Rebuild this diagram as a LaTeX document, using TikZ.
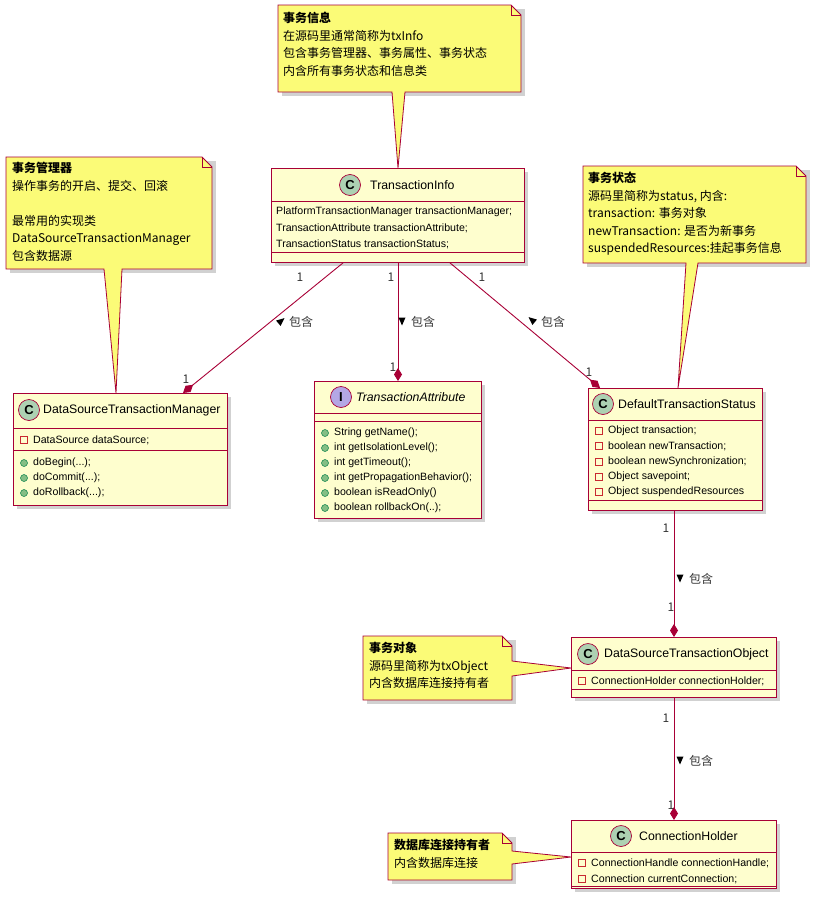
\documentclass[tikz,border=0pt]{standalone}
\usepackage{fontspec}
\setmainfont{Liberation Sans}
\newfontfamily\cjk{Noto Sans CJK SC}
\usetikzlibrary{arrows.meta,calc}
\definecolor{umlred}{HTML}{A80036}
\definecolor{umlbg}{HTML}{FEFECE}
\definecolor{notebg}{HTML}{FBFB77}
\definecolor{cgreen}{HTML}{ADD1B2}
\definecolor{ipurple}{HTML}{B4A7E5}
\definecolor{pubfill}{HTML}{84BE84}
\definecolor{publine}{HTML}{038048}
\definecolor{privline}{HTML}{C82930}
\begin{document}
\begin{tikzpicture}[x=1pt,y=-1pt,
  cls/.style={draw=umlred,fill=umlbg,line width=0.9pt,anchor=north west,inner sep=0},
  icon/.style={circle,draw=umlred,line width=0.7pt,minimum size=21pt,inner sep=0,font=\fontsize{13}{13}\bfseries},
  title/.style={anchor=west,inner sep=0,font=\fontsize{12.3}{13}\selectfont},
  mem/.style={anchor=west,inner sep=0,font=\fontsize{10.6}{11}\selectfont},
  pub/.style={circle,fill=pubfill,draw=publine,line width=0.5pt,minimum size=7pt,inner sep=0},
  priv/.style={rectangle,draw=privline,line width=0.6pt,minimum size=7pt,inner sep=0},
  note/.style={draw=umlred,fill=notebg,line width=0.8pt},
  ntext/.style={anchor=north west,inner sep=0,align=left,font=\cjk\fontsize{12}{17.5}\selectfont},
  conn/.style={draw=umlred,line width=0.9pt},
  comp/.style={conn,-{Diamond[length=13pt,width=8pt,fill=umlred]}},
  lbl/.style={inner sep=0,text=black!80,font=\cjk\fontsize{12}{12}\selectfont},
]
\useasboundingbox (0,0) rectangle (816,910);
\newcommand\clsbox[5]{% name, x1,y1,x2,y2
  \fill[black!18] (#2+4,#3+4) rectangle (#4+4,#5+4);
  \node[cls,minimum width={#4-#2},minimum height={#5-#3}] (#1) at (#2,#3) {};}
\newcommand\pubm[3]{\node[pub] at (#1,#2) {}; \node[mem] at (#1+9,#2) {#3};}
\newcommand\privm[3]{\node[priv] at (#1,#2) {}; \node[mem] at (#1+9,#2) {#3};}
\newcommand\arr[3]{\fill[black,shift={(#1,#2)},rotate=#3] (4.5,0) -- (-3.5,3.5) -- (-3.5,-3.5) -- cycle;}

% ---------- Notes ----------
\fill[black!18] (282,9) rectangle (525,96);
\draw[note] (278,5) -- (511,5) -- (521,15) -- (521,92) -- (405,92) -- (398,168) -- (392,92) -- (278,92) -- cycle;
\draw[note,fill=none] (511,5) -- (511,15) -- (521,15);
\node[ntext] (n1) at (283,12) {\textbf{事务信息}\\在源码里通常简称为txInfo\\包含事务管理器、事务属性、事务状态\\内含所有事务状态和信息类};

\fill[black!18] (10,161) rectangle (216,273);
\draw[note] (6,157) -- (202,157) -- (212,167) -- (212,269) -- (122,269) -- (116,393) -- (104,269) -- (6,269) -- cycle;
\draw[note,fill=none] (202,157) -- (202,167) -- (212,167);
\node[ntext] (n2) at (12,162) {\textbf{事务管理器}\\操作事务的开启、提交、回滚\\[17.5pt]最常用的实现类\\DataSourceTransactionManager\\包含数据源};

\fill[black!18] (587,170) rectangle (810,267);
\draw[note] (583,166) -- (796,166) -- (806,176) -- (806,263) -- (698,263) -- (678,388) -- (686,263) -- (583,263) -- cycle;
\draw[note,fill=none] (796,166) -- (796,176) -- (806,176);
\node[ntext] (n3) at (588,172) {\textbf{事务状态}\\源码里简称为status, 内含:\\transaction: 事务对象\\newTransaction: 是否为新事务\\suspendedResources:挂起事务信息};

\fill[black!18] (367,640) rectangle (516,704);
\draw[note] (363,636) -- (502,636) -- (512,646) -- (512,661) -- (571,668) -- (512,676) -- (512,700) -- (363,700) -- cycle;
\draw[note,fill=none] (502,636) -- (502,646) -- (512,646);
\node[ntext] (n4) at (369,642) {\textbf{事务对象}\\源码里简称为txObject\\内含数据库连接持有者};

\fill[black!18] (392,837) rectangle (516,884);
\draw[note] (388,833) -- (502,833) -- (512,843) -- (512,851) -- (571,857) -- (512,864) -- (512,880) -- (388,880) -- cycle;
\draw[note,fill=none] (502,833) -- (502,843) -- (512,843);
\node[ntext] (n5) at (394,839) {\textbf{数据库连接持有者}\\内含数据库连接};

% ---------- TransactionInfo ----------
\clsbox{ti}{271}{168}{524}{262}
\draw[umlred,line width=0.8pt] (271,201) -- (524,201) (271,252) -- (524,252);
\node[icon,fill=cgreen] at (350,185) {C};
\node[title] at (370,185) {TransactionInfo};
\node[mem] at (276,212) {PlatformTransactionManager transactionManager;};
\node[mem] at (276,228) {TransactionAttribute transactionAttribute;};
\node[mem] at (276,244) {TransactionStatus transactionStatus;};

% ---------- DataSourceTransactionManager ----------
\clsbox{dstm}{13}{393}{227}{505}
\draw[umlred,line width=0.8pt] (13,428) -- (227,428) (13,450) -- (227,450);
\node[icon,fill=cgreen] at (29,410) {C};
\node[title] at (43,410) {DataSourceTransactionManager};
\privm{24}{440}{DataSource dataSource;}
\pubm{24}{463}{doBegin(...);}
\pubm{24}{478}{doCommit(...);}
\pubm{24}{493}{doRollback(...);}

% ---------- TransactionAttribute ----------
\clsbox{ta}{314}{381}{481}{518}
\draw[umlred,line width=0.8pt] (314,413) -- (481,413) (314,421) -- (481,421);
\node[icon,fill=ipurple] at (341,397) {I};
\node[title,font=\fontsize{12.3}{13}\itshape] at (356,397) {TransactionAttribute};
\pubm{325}{433}{String getName();}
\pubm{325}{448}{int getIsolationLevel();}
\pubm{325}{463}{int getTimeout();}
\pubm{325}{478}{int getPropagationBehavior();}
\pubm{325}{493}{boolean isReadOnly()}
\pubm{325}{508}{boolean rollbackOn(..);}

% ---------- DefaultTransactionStatus ----------
\clsbox{dts}{588}{388}{762}{510}
\draw[umlred,line width=0.8pt] (588,420) -- (762,420) (588,500) -- (762,500);
\node[icon,fill=cgreen] at (603,404) {C};
\node[title] at (618,404) {DefaultTransactionStatus};
\privm{599}{431}{Object transaction;}
\privm{599}{446}{boolean newTransaction;}
\privm{599}{462}{boolean newSynchronization;}
\privm{599}{477}{Object savepoint;}
\privm{599}{492}{Object suspendedResources}

% ---------- DataSourceTransactionObject ----------
\clsbox{dsto}{571}{637}{776}{697}
\draw[umlred,line width=0.8pt] (571,670) -- (776,670) (571,689) -- (776,689);
\node[icon,fill=cgreen] at (588,654) {C};
\node[title] at (604,654) {DataSourceTransactionObject};
\privm{582}{681}{ConnectionHolder connectionHolder;}

% ---------- ConnectionHolder ----------
\clsbox{ch}{571}{820}{776}{888}
\draw[umlred,line width=0.8pt] (571,852) -- (776,852) (571,886) -- (776,886);
\node[icon,fill=cgreen] at (621,836) {C};
\node[title] at (639,836) {ConnectionHolder};
\privm{582}{863}{ConnectionHandle connectionHandle;}
\privm{582}{879}{Connection currentConnection;}

% ---------- Connectors ----------
\coordinate (a1) at ($(ti.south west)+(72,0)$);
\coordinate (b1) at ($(dstm.north west)+(170,0)$);
\draw[comp] (a1) -- (b1);
\coordinate (a2) at ($(ti.south west)+(127,0)$);
\coordinate (b2) at ($(ta.north west)+(84,0)$);
\draw[comp] (a2) -- (b2);
\coordinate (a3) at ($(ti.south west)+(179,0)$);
\coordinate (b3) at ($(dts.north west)+(12,0)$);
\draw[comp] (a3) -- (b3);
\coordinate (a4) at ($(dts.south west)+(86,0)$);
\coordinate (b4) at ($(dsto.north west)+(103,0)$);
\draw[comp] (a4) -- (b4);
\coordinate (a5) at ($(dsto.south west)+(103,0)$);
\coordinate (b5) at ($(ch.north west)+(103,0)$);
\draw[comp] (a5) -- (b5);

\node[lbl] at (300,277) {1}; \node[lbl] at (186,379) {1};
\arr{281}{321}{40}
\node[lbl,anchor=west] at (289,322) {包含};
\node[lbl] at (391,277) {1}; \node[lbl] at (393,367) {1};
\arr{402}{321}{-90}
\node[lbl,anchor=west] at (411,322) {包含};
\node[lbl] at (482,277) {1}; \node[lbl] at (589,372) {1};
\arr{532}{320}{140}
\node[lbl,anchor=west] at (541,322) {包含};
\node[lbl] at (666,528) {1}; \node[lbl] at (671,607) {1};
\arr{680}{578}{-90}
\node[lbl,anchor=west] at (689,579) {包含};
\node[lbl] at (666,718) {1}; \node[lbl] at (671,805) {1};
\arr{680}{760}{-90}
\node[lbl,anchor=west] at (689,761) {包含};
\end{tikzpicture}
\end{document}
